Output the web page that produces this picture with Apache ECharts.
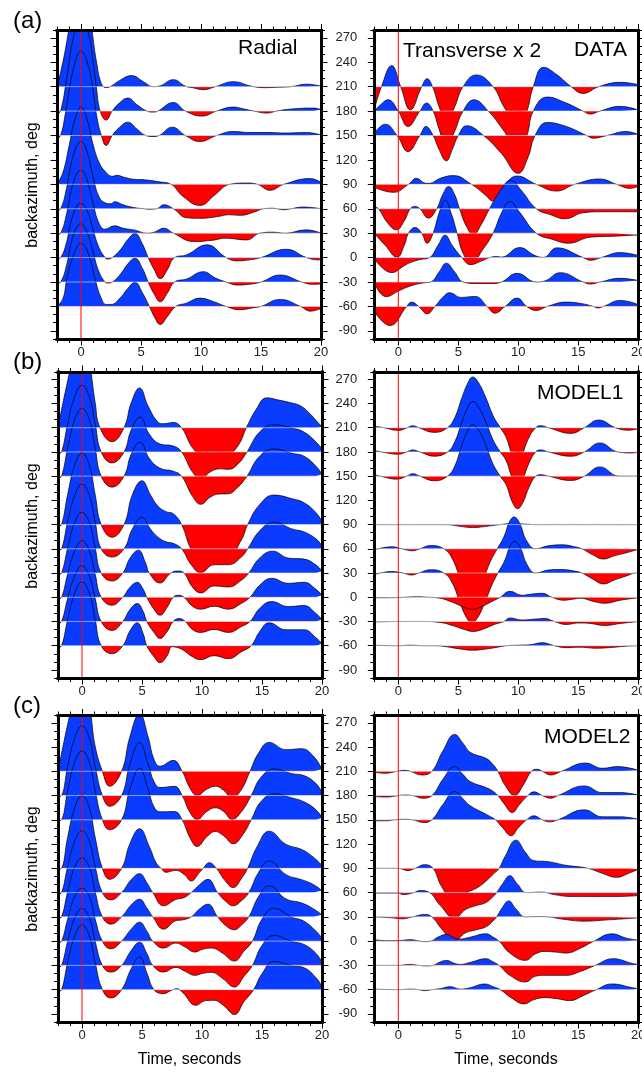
<!DOCTYPE html>
<html>
<head>
<meta charset="utf-8">
<title>Receiver functions</title>
<script src="https://cdn.jsdelivr.net/npm/echarts@6.0.0/dist/echarts.min.js"></script>
<style>
  html, body { margin: 0; padding: 0; background: #fff; }
  #chart { width: 642px; height: 1072px; }
</style>
</head>
<body>
<div id="chart"></div>
<script>
// backazimuth of each trace, top to bottom
const BAZ = [210, 180, 150, 90, 60, 30, 0, -30, -60];
const TIME_TICKS = [0, 5, 10, 15, 20];
const BAZ_TICKS = [-90, -60, -30, 0, 30, 60, 90, 120, 150, 180, 210, 240, 270];
const AMP = 1.233; // trace amplitude unit -> degrees on the y axis

// [time s, amplitude] per trace, same order as BAZ
const RAD_DATA = [
  [[-2,0],[-1.5,25],[-1,58],[-0.5,95],[0,110],[0.5,88],[0.9,57],[1.3,24],[1.7,3],[2.1,-1],[2.5,0.5],[3.2,6],[4.2,11],[5.2,5],[6,0],[6.5,0.5],[7.7,7],[8.7,0.5],[9.3,-1],[10.2,-3],[11.2,0],[12.7,5],[14.2,0.5],[15.3,-1],[16.5,-0.5],[17.5,0],[18.8,2.5],[20,0.5]],
  [[-2,-3],[-1.7,0],[-1.2,32],[-0.6,75],[0,92],[0.6,78],[1.0,50],[1.3,22],[1.6,0],[2.1,-9],[2.6,0],[3.2,8],[3.9,13],[4.7,6],[5.5,0],[6,-1],[6.4,0],[7.7,8.5],[8.7,0],[10.1,-5],[11.3,0],[12.7,4],[13.6,2],[14.4,0],[15.5,-2],[16.3,0],[17.5,2],[19.4,3],[20,1.5]],
  [[-2,-3],[-1.7,0],[-1.3,22],[-0.6,68],[0,84],[0.6,70],[1.0,45],[1.3,20],[1.7,0],[2.1,-10],[2.6,0],[3.2,8],[3.9,13.3],[4.7,6],[5.4,0],[6,-1],[6.5,0],[7.6,8.3],[8.7,0],[9.9,-6],[11.3,0],[12.7,4],[14,3],[15.5,3],[17,2.5],[18.8,3],[20,0.5]],
  [[-2,0],[-1.5,12],[-1,38],[-0.5,65],[0,77],[0.5,65],[1,40],[1.5,22],[2,13],[2.6,8],[3.0,9],[3.6,7],[4.4,5],[5.3,4.5],[6.5,2.5],[7.5,0],[8.5,-12],[9.9,-21],[11.2,-10],[12.4,0],[13.8,1.3],[14.7,0],[15.75,-6],[16.9,0],[19.1,5.7],[20,2]],
  [[-2,-2],[-1.7,0],[-1.3,15],[-0.6,55],[0,67],[0.5,57],[1,32],[1.5,12],[2,6],[2.5,5],[2.8,7],[3.5,4],[4.5,1],[5.3,0],[5.6,-0.5],[6.3,0],[6.9,4],[7.7,0],[8.8,-9],[10,-9.5],[11.3,-8],[12.3,-6],[13.3,-6.5],[14.5,-3],[15.2,0],[16,0.5],[16.9,-1],[17.5,0],[18.5,1.7],[20,0]],
  [[-2,-2],[-1.7,0],[-1.3,14],[-0.6,52],[0,63],[0.5,53],[1,30],[1.5,10],[2,4],[2.8,7.3],[3.5,5],[4.5,3],[5.5,0],[6.1,1],[6.9,5],[7.7,0],[9.4,-8.3],[11,-7],[12,-5],[13.8,-6.7],[14.9,0],[16,1],[17,0],[18.8,3.3],[20,0]],
  [[-2,-2],[-1.7,0],[-1.3,11],[-0.6,45],[0,54],[0.5,47],[1,28],[1.5,10],[2,0],[2.2,-1.5],[2.6,0],[3.3,8],[3.9,18],[4.5,24],[5.1,14],[5.6,0],[6.1,-12],[6.6,-21],[7.2,-12],[7.8,0],[8.8,2.7],[10.5,12.7],[12.1,0],[13,-3.3],[14.2,-2],[15,0],[17.1,8.3],[18.8,0],[19.8,-2.3],[20,-1]],
  [[-2,-2],[-1.7,0],[-1.3,12],[-0.6,48],[0,58],[0.5,50],[1,30],[1.5,10],[2,0],[2.2,-1],[2.6,0],[3.3,8],[3.9,18],[4.5,23.7],[5.1,14],[5.6,0],[6.1,-12],[6.6,-19.7],[7.2,-11],[7.8,0],[8.8,3],[10.2,10.3],[11.2,4],[12.1,0],[13,-3],[14.2,-2],[15,0],[16.6,7],[18.4,0],[19.3,-2.3],[20,-2]],
  [[-2,0],[-1.5,8],[-1.2,26],[-0.6,52],[0,63],[0.6,53],[1.2,26],[1.7,8],[2.1,2],[2.5,2],[3.3,9],[3.9,18],[4.5,24],[5.1,14],[5.7,0],[6.1,-10],[6.6,-18],[7.2,-10],[7.9,0],[8.8,3.3],[9.9,8.3],[11,5],[12.1,0],[13.2,-3.3],[14.5,-1],[15,0],[16.6,7],[18.3,0],[19.1,-4.7],[20,-2]]
];

const TRA_DATA = [
  [[-2,-23],[-1.4,0],[-0.55,21],[0.2,0],[1.0,-23],[1.95,0],[2.4,8],[2.85,0],[3.4,-20],[4.0,-36],[4.7,-20],[5.4,0],[6.5,11.7],[7.9,0],[8.8,-20],[10,-40],[10.7,-25],[11.25,0],[12.1,19.3],[13.2,12],[14.4,0],[15.4,-6.7],[16.7,0],[18.5,4.3],[20,2]],
  [[-2,0],[-1.5,6],[-0.85,11.3],[0,0],[0.8,-15.3],[1.8,0],[2.35,8],[2.9,0],[3.4,-18],[4.0,-36],[4.7,-20],[5.4,0],[6.3,11.3],[7.5,0],[8.7,-18],[10,-38.7],[10.7,-25],[11.25,0],[12.4,14],[14,8],[15.4,0],[16,-3],[16.8,0],[18.5,4.7],[20,1]],
  [[-2,2],[-1.1,11.3],[-0.1,0],[0.8,-16],[1.8,0],[2.3,9],[2.9,0],[3.4,-14],[4.0,-25.3],[4.5,-14],[5.0,0],[5.7,9.7],[7.1,0],[8.6,-18],[10,-37.7],[10.8,-22],[11.4,0],[12.4,13],[14,9],[15.7,0],[16.25,-2.7],[17.4,0],[19,4],[20,1]],
  [[-2,-3],[-0.4,-8],[0.85,0],[1.5,6],[2.3,1],[2.6,1],[3.5,6],[4.6,8.7],[6.1,0],[7.2,-10],[7.9,-16.7],[8.9,0],[9.9,8.3],[11.5,0],[13.2,-6.7],[14.7,0],[16.8,5.3],[18.2,0],[19.3,-4],[20,-2]],
  [[-2,2],[-1.65,0],[-0.9,-14],[-0.15,-21],[0.5,-12],[1.0,0],[1.4,2.3],[1.8,0],[2.5,-9.3],[3.2,0],[3.7,14],[4.2,22.3],[4.7,14],[5.1,0],[5.7,-18],[6.25,-26],[6.9,-16],[7.6,0],[8.5,18],[9.35,28.3],[10.2,19],[11.5,0],[12.7,-6],[13.9,-10],[15.4,-4],[17,-3],[18.5,-3],[20,-3]],
  [[-2,0],[-1.1,-12],[-0.1,-24],[0.5,-12],[0.85,0],[1.4,5.7],[1.95,0],[2.4,-10],[2.9,0],[3.4,20],[3.9,33],[4.4,20],[4.9,0],[5.4,-20],[6.1,-30],[7.0,-17],[7.9,0],[8.6,20],[9.3,31.7],[10.1,21],[11.5,0],[12.8,-6],[14.2,-10],[16,-4],[18,-3],[20,-1.7]],
  [[-2,-1],[-0.55,-15],[0.5,-8],[1.0,-5],[1.8,-2],[2.6,0],[3.3,12],[3.9,22.3],[4.5,12],[5.3,0],[6.0,-7],[7.0,-3],[7.6,0],[8.2,1],[8.6,0.5],[10.1,10],[11.4,2],[12.1,0.2],[13.2,9.7],[15.4,0],[16,-2.7],[16.9,0],[18.5,5],[20,2]],
  [[-2,-1],[-1.0,-14.7],[0,-9],[1,-4],[2,-1],[2.7,0],[3.4,10],[4.0,18.7],[4.7,10],[5.4,0],[6.5,-1.5],[7.8,-1.5],[8.6,0],[9.9,8.7],[11.5,0],[12.2,1],[13.5,9.3],[15.4,0],[16,-2],[16.8,0],[18.5,3.7],[20,1.5]],
  [[-2,-5],[-0.7,-19],[0.7,0],[1.1,4.3],[1.7,0],[2.4,-7.3],[3.05,0],[3.7,9],[4.3,13.7],[5.2,9],[6.4,10],[7.4,0],[8.05,-6.7],[8.9,0],[9.9,8.3],[10.7,0],[11.5,-4],[12.4,0],[14,4.3],[15.2,3],[16.25,0],[16.6,-1.5],[17.1,0],[18.5,6],[20,2]]
];

const RAD_M1 = [
  [[-2,0],[-1.5,30],[-1,58],[-0.5,88],[-0.1,100],[0.4,85],[0.75,56],[1.1,25],[1.5,0],[2.5,-14],[3.5,0],[4.1,25],[4.8,40],[5.5,22],[6.3,6],[6.8,4],[7.6,5.3],[8.3,0],[9.2,-20],[9.9,-26.3],[10.9,-24],[12.1,-26.3],[13,-18],[13.7,0],[14.5,18],[15.4,30],[16.3,28],[17.4,25],[18.2,22],[19,14],[19.6,6],[20,1]],
  [[-2,-2],[-1.7,0],[-1.2,28],[-0.6,56],[0,67],[0.6,56],[1.1,28],[1.6,0],[2.5,-11],[3.5,0],[4.1,22],[4.85,35],[5.6,18],[6.5,8],[7.6,6],[8.3,0],[9.2,-20],[9.9,-27.7],[10.7,-20],[11.5,-17],[12.2,-17.5],[13,-12],[13.75,0],[14.8,20],[16,27.3],[17.5,24],[18.5,20],[19.5,10],[20,3]],
  [[-2,-2],[-1.7,0],[-1.2,28],[-0.6,57],[0,68],[0.6,57],[1.1,28],[1.6,0],[2.5,-11],[3.5,0],[4.1,22],[4.85,34.3],[5.6,18],[6.5,8],[7.6,5],[8.3,0],[9.2,-20],[9.9,-28.3],[10.7,-21],[11.4,-18],[12.2,-17.7],[13,-11],[13.75,0],[14.8,20],[16,27.3],[17.5,23],[18.5,20],[19.5,10],[20,2]],
  [[-2,-2],[-1.7,0],[-1.2,30],[-0.6,60],[0,72],[0.6,60],[1.1,30],[1.6,0],[2.5,-12.7],[3.5,0],[4.2,30],[5.0,44],[5.7,30],[6.3,19],[7,13],[7.6,11],[8.3,0],[9.1,-25],[9.9,-36],[11,-30],[12.2,-31],[13.3,-15],[13.8,0],[14.8,20],[16,29.7],[17.5,26],[18.5,22],[19.5,12],[20,3]],
  [[-2,-2],[-1.7,0],[-1.2,27],[-0.6,54],[0,65],[0.6,54],[1.1,27],[1.6,0],[2.5,-8.3],[3.5,0],[4.2,20],[5.0,31.7],[5.7,20],[6.3,12],[7,7],[7.6,5.5],[8.3,0],[9.1,-16],[9.9,-24],[11,-16],[12.2,-16],[13.3,-8],[13.8,0],[14.8,18],[16,26.7],[17.5,20],[18.5,17],[19.5,10],[20,3]],
  [[-2,-2],[-1.7,0],[-1.2,25],[-0.6,51],[0,61],[0.6,51],[1.1,25],[1.6,0],[2.5,-8],[3.4,0],[4,15],[4.7,23],[5.3,10],[5.6,0],[6.5,-10],[7.4,0],[8,2],[8.5,0],[9.2,-14],[9.9,-20],[11,-13],[12.2,-14],[13.3,-7],[13.9,0],[14.8,15],[15.9,22],[17.2,15],[18.5,14],[19.5,8],[20,2]],
  [[-2,-2],[-1.7,0],[-1.2,23],[-0.6,47],[0,57],[0.6,47],[1.1,23],[1.6,0],[2.5,-8],[3.4,0],[4,10],[4.6,15],[5.1,8],[5.4,0],[6,-12],[6.5,-18],[7.1,-10],[7.6,0],[8,2],[8.5,0],[9.2,-9],[9.9,-12],[11,-9],[12.2,-12],[13.3,-6],[14,0],[14.8,12],[15.8,19],[17.2,14],[18.5,15],[19.5,8],[20,2]],
  [[-2,-2],[-1.7,0],[-1.2,23],[-0.6,46],[0,56],[0.6,46],[1.1,23],[1.6,0],[2.5,-9],[3.4,0],[4,12],[4.6,18],[5.1,10],[5.4,0],[6,-11],[6.5,-17],[7.1,-10],[7.6,0],[8.1,3],[8.6,0],[9.2,-8],[9.9,-11],[11,-8],[12.2,-11],[13.3,-5],[14,0],[14.8,13],[15.8,20],[17.2,15],[18.5,16],[19.5,8],[20,2]],
  [[-2,-2],[-1.7,0],[-1.2,26],[-0.6,53],[0,64],[0.6,53],[1.1,26],[1.6,0],[2.5,-8],[3.4,0],[4,15],[4.6,23],[5.1,12],[5.4,0],[6,-11],[6.5,-17],[7.1,-10],[7.5,-1],[8,-2],[8.5,-5],[9.2,-11],[9.9,-14],[11,-10],[12.2,-13],[13.3,-6],[14.1,0],[14.8,14],[15.6,23],[17,16],[18.5,16],[19.5,8],[20,2]]
];

const TRA_M1 = [
  [[-2,1.5],[-1.2,0],[0,-2.7],[0.75,0],[1.2,2],[1.7,0],[3.0,-4.7],[4.1,0],[4.7,10],[5.3,30],[5.8,45],[6.2,51],[6.7,45],[7.3,30],[7.9,12],[8.5,0],[9.0,-10],[9.5,-28],[9.9,-35.7],[10.3,-28],[10.8,-12],[11.45,0],[11.9,2],[12.5,0],[14.4,-5.7],[15.5,0],[16.7,7.7],[18.1,0],[19.2,-2.5],[20,-1]],
  [[-2,1.5],[-1.4,0],[0,-2.3],[0.7,0],[1.2,2],[1.8,0],[3.0,-4.3],[4.1,0],[4.7,10],[5.3,30],[5.8,45],[6.2,50.7],[6.7,45],[7.3,30],[7.9,12],[8.5,0],[9.0,-9],[9.5,-26],[9.95,-32.7],[10.4,-26],[10.9,-11],[11.45,0],[11.9,2],[12.5,0],[14.4,-4.3],[15.5,0],[16.8,9],[18.3,0],[19.5,-1],[20,0]],
  [[-2,1.5],[-1.5,0],[-0.1,-3],[0.7,0],[1.2,2.5],[1.8,0],[3.0,-4.7],[4.1,0],[4.7,10],[5.3,31],[5.8,46],[6.2,51.7],[6.7,46],[7.3,31],[7.9,12],[8.5,0],[9.0,-9],[9.5,-26],[9.95,-32.7],[10.4,-26],[10.9,-11],[11.45,0],[11.9,1.5],[12.5,0],[14.4,-4.3],[15.5,0],[16.8,9.3],[18.4,0],[20,0]],
  [[-2,0],[4,0],[5,-1.5],[6.2,-3],[7.5,-1.5],[8.5,0],[9.5,1],[10.5,0.5],[11.5,0],[20,0]],
  [[-2,-1.5],[-1.7,0],[-0.5,2],[0.3,0],[1.2,-2],[1.8,0],[2.7,3.3],[3.8,0],[4.5,-10],[5.2,-32],[5.6,-45],[6.0,-50],[6.5,-45],[7.1,-30],[7.7,-12],[8.25,0],[8.8,12],[9.3,28],[9.65,32],[10.1,26],[10.7,8],[11.45,0],[12.5,3],[13.7,4],[14.7,2],[15.3,0],[16.2,-6],[17.1,-10.3],[18,-7],[19,-4],[20,-0.5]],
  [[-2,-1.5],[-1.5,0],[-0.6,1.5],[0.4,0],[1.1,-2],[1.7,0],[2.7,3.3],[3.8,0],[4.5,-10],[5.2,-32],[5.7,-45],[6.1,-50.3],[6.6,-45],[7.2,-30],[7.8,-12],[8.3,0],[8.85,12],[9.35,28],[9.7,31.7],[10.15,26],[10.75,8],[11.45,0],[12.5,3],[13.5,3.5],[14.7,2],[15.3,0],[16.2,-6],[17.1,-11],[18,-7],[19,-3],[19.8,0],[20,0]],
  [[-2,-0.5],[0,-0.3],[1.5,0.5],[2.5,0],[3.5,-1],[4.5,-5],[5.5,-10],[6.2,-12],[7,-9],[8,-3],[8.5,0],[9.3,6],[10.3,2],[11,3],[12,4],[12.8,0],[13.8,-3],[14.5,-2],[15.2,-1],[16.2,-4],[17.2,-6],[18.5,-3],[20,-0.5]],
  [[-2,-0.5],[0,0],[2,0],[3.5,-1],[4.5,-4],[5.5,-8],[6.2,-10],[7,-8],[8,-3],[8.8,0],[9.3,3.5],[10.3,1.5],[11.5,2.5],[12.2,3],[13,0],[14,-3],[15,-1.5],[16,-2],[17.2,-4],[18.5,-2],[20,0]],
  [[-2,0.5],[0,0],[1,0.5],[2,0],[3,0],[4,-1],[5,-3],[6.2,-4.5],[7.5,-3],[8.5,-1],[9,0],[10,0.5],[11,1],[12,3],[13,0],[14,-2],[15,-1.5],[16.5,-2.5],[17.5,-2],[19,-0.5],[20,0]]
];

const RAD_M2 = [
  [[-2,0],[-1.5,30],[-1,58],[-0.5,88],[-0.1,100],[0.4,85],[0.75,56],[1.1,25],[1.7,0],[2.3,-15],[3.3,0],[4.0,35],[4.8,58],[5.5,35],[6.0,12],[6.5,5],[7.6,11],[8.35,0],[9.0,-17],[9.6,-24.3],[10.4,-18],[11.1,-15],[11.8,-19],[12.5,-26.7],[13.3,-18],[14,0],[14.7,18],[15.6,29],[17,21.7],[18.3,22.7],[19.3,15],[20,2]],
  [[-2,-1],[-1.7,0],[-1.2,29],[-0.6,58],[0,70],[0.6,58],[1.1,29],[1.7,0],[2.3,-10.7],[3.3,0],[4.0,32],[4.8,53],[5.5,32],[6.0,14],[6.5,8],[7.7,9.3],[8.35,0],[9.0,-17],[9.6,-24],[10.4,-16],[11.1,-12.3],[11.8,-16],[12.5,-24],[13.3,-16],[14.1,0],[14.9,18],[16,26.7],[17.5,22],[18.5,20],[19.5,12],[20,3]],
  [[-2,-1],[-1.7,0],[-1.2,29],[-0.6,58],[0,69],[0.6,58],[1.1,29],[1.7,0],[2.3,-10],[3.3,0],[4.0,31],[4.8,51.7],[5.5,31],[6.0,13],[6.5,8],[7.7,8.3],[8.35,0],[9.0,-18],[9.6,-26.7],[10.4,-17],[11.1,-11.7],[11.8,-16],[12.6,-24],[13.4,-15],[14.1,0],[14.9,18],[16,26],[17.5,22],[18.5,18],[19.5,10],[20,2]],
  [[-2,-1],[-1.7,0],[-1.2,31],[-0.6,61],[0,73],[0.6,61],[1.1,31],[1.7,0],[2.3,-11],[3.3,0],[4.0,25],[4.8,39.7],[5.6,22],[6.2,5],[6.6,0],[7,-4],[7.8,-2],[8.5,-6],[9.1,-12.7],[9.8,-4],[10.1,0],[10.6,5.7],[11.2,0],[11.9,-12],[12.6,-19.3],[13.3,-10],[13.8,0],[14.6,22],[15.6,37.3],[17,24],[18.3,19],[19.3,11],[20,3]],
  [[-2,-2],[-1.7,0],[-1.2,26],[-0.6,52],[0,62],[0.6,52],[1.1,26],[1.7,0],[2.4,-7.3],[3.3,0],[4.1,13],[4.8,19],[5.4,10],[5.9,0],[6.8,-13.3],[7.8,-7],[8.5,-5],[9.1,0],[9.8,8],[10.5,13.3],[11.3,0],[12,-9],[12.6,-13.3],[13.3,-8],[13.9,0],[14.7,20],[15.6,31.7],[17,18],[18.3,13],[19.3,8],[20,2]],
  [[-2,-2],[-1.7,0],[-1.2,25],[-0.6,50],[0,59],[0.6,50],[1.1,25],[1.7,0],[2.4,-7.3],[3.3,0],[4.1,12],[4.8,17.7],[5.4,9],[5.9,0],[6.8,-12.3],[7.8,-4],[8.4,-3],[9.1,0],[9.8,8],[10.5,12.7],[11.3,0],[12,-9],[12.7,-13],[13.3,-8],[13.9,0],[14.7,20],[15.6,31],[17,18],[18.3,14],[19.3,8],[20,2]],
  [[-2,-2],[-1.7,0],[-1.2,22],[-0.6,45],[0,53],[0.6,45],[1.1,22],[1.7,0],[2.4,-7.7],[3.3,0],[4.1,12],[4.8,19],[5.4,10],[5.9,0],[6.8,-7],[7.8,-2],[8.6,-6],[9.4,-11],[10.1,-8],[10.8,-7],[11.7,-12],[12.7,-20],[13.5,-10],[14.2,0],[15,22],[16,33],[17.5,24],[18.5,20],[19.5,10],[20,3]],
  [[-2,-2],[-1.7,0],[-1.2,24],[-0.6,48],[0,57],[0.6,48],[1.1,24],[1.7,0],[2.4,-6.7],[3.3,0],[4.1,15],[4.8,23.3],[5.4,12],[5.9,0],[6.8,-6.7],[7.8,-2],[8.6,-6],[9.4,-10],[10.1,-8],[10.8,-7],[11.7,-13],[12.7,-21.7],[13.5,-11],[14.2,0],[15,20],[16,30],[17.5,24],[18.5,21],[19.5,12],[20,3]],
  [[-2,-2],[-1.7,0],[-1.2,27],[-0.6,54],[0,65],[0.6,54],[1.1,27],[1.7,0],[2.4,-8.3],[3.3,0],[4.1,21],[4.8,32.7],[5.4,17],[6.0,0],[6.8,-4],[7.4,-1],[7.9,1],[8.4,-3],[9.5,-15.7],[10.3,-11],[11,-10.7],[11.8,-16],[12.7,-25],[13.5,-12],[14.3,0],[15,16],[16,28.3],[17.5,24],[18.5,22],[19.5,12],[20,3]]
];

const TRA_M2 = [
  [[-2,-1],[-1.1,-2],[-0.1,0],[0.5,1],[1,0],[1.95,-3.7],[2.8,0],[3.7,20],[4.7,37],[5.4,28],[6,19],[7.3,13],[7.8,8],[8.3,0],[8.9,-14],[9.7,-24.3],[10.4,-14],[11.1,0],[11.6,2],[12,0],[12.7,-3.7],[13.6,0],[15.6,8.3],[17,3],[18.3,4.7],[20,1]],
  [[-2,-1],[-1,-1.5],[0,0],[0.5,0.5],[1.2,0],[2,-2.7],[2.8,0],[3.7,16],[4.7,29],[5.4,21],[6,14],[7.3,8],[7.8,5],[8.3,0],[8.8,-8],[9.5,-17],[10.1,-9],[10.8,0],[11.3,3.7],[12,0],[12.7,-2.7],[13.3,0],[15.5,9.7],[17,3],[18.5,3],[20,0.5]],
  [[-2,-1],[-1,-1],[-0.3,0],[0.5,0.5],[1.2,0],[2.1,-2.7],[2.8,0],[3.7,15],[4.7,28.3],[5.4,21],[6,14],[7.3,5.7],[7.7,3],[8.1,0],[8.7,-8],[9.4,-16],[10.0,-8],[10.7,0],[11.3,4],[12,0],[12.6,-2],[13.3,0],[15.5,10],[17,3],[18.5,3],[20,0.5]],
  [[-2,0],[0,0],[0.8,-2.3],[1.4,0],[2.2,3.7],[2.9,0],[3.6,-18],[4.7,-34],[5.6,-25],[6.5,-20],[7.2,-14],[7.9,-6],[8.4,0],[8.9,12],[9.8,28.3],[10.6,16],[11.3,7.7],[12.5,6.7],[14,3],[15.8,0],[17,-5],[18.2,-9],[19.2,-5],[20,-1]],
  [[-2,-0.5],[0,-0.5],[0.4,-2],[1.3,0],[1.8,2],[2.6,0],[3.5,-13],[4.7,-25.7],[5.6,-17],[6.5,-13],[7.3,-10],[7.9,-4],[8.2,0],[8.7,9],[9.3,17],[9.9,9],[10.7,0],[12,0.5],[13,-2],[14.5,-4],[16,-4],[18,-4],[20,-3]],
  [[-2,0],[-0.5,-1],[0.3,-2],[1.2,0],[2.2,2.3],[2.8,0],[3.6,-12],[4.7,-24],[5.6,-16],[6.5,-13],[7.3,-10],[7.9,-4],[8.2,0],[8.6,8],[9.2,16],[9.8,8],[10.6,0],[11.5,0.3],[12.5,0],[13.5,-2],[15.5,-4.3],[17.5,-3],[20,-1]],
  [[-2,1.5],[-1,0.5],[0,0.5],[1,1.5],[1.8,0],[2.2,-0.5],[2.7,0],[3.3,4],[4,6.7],[4.7,3],[5,2],[6,4],[7.3,7.3],[7.9,4],[8.4,0],[9.3,-12],[10.6,-19.3],[11.4,-13],[12.2,-10.3],[13.1,-11],[14,-12],[15.2,-7],[16.3,0],[17.8,7.3],[19,3],[20,1]],
  [[-2,0],[-1,0],[0,0],[1,1],[1.7,0],[2.3,-0.5],[2.9,0],[3.4,3],[4,5],[4.7,2],[5.2,1],[6,3],[7.3,6.7],[7.9,3.5],[8.4,0],[9.3,-10],[10.6,-16.7],[11.4,-11],[12.2,-10],[13.1,-10],[14,-10],[15.2,-6],[16.4,0],[17.9,6.7],[19.5,2],[20,1]],
  [[-2,0.5],[0,0],[1,0.5],[1.7,0],[2.2,-1],[2.8,0],[3.5,1],[4.3,3],[5.2,0.5],[6,2],[7.2,5.7],[7.9,3],[8.5,0],[9.4,-8],[10.5,-14.3],[11.3,-10],[12.2,-8],[13.2,-9],[14.3,-11],[15.4,-6],[16.5,0],[17.8,5.7],[19.5,2],[20,1]]
];

const FONT = "'Liberation Sans', Arial, Helvetica, sans-serif";
const BLUE = '#0a3cff';
const RED = '#ff0000';

const PANELS = [
  { traces: RAD_DATA, left: 57,    top: 30.5,  height: 308.5, labels: false },
  { traces: TRA_DATA, left: 374.3, top: 30.5,  height: 308.5, labels: true },
  { traces: RAD_M1,   left: 58,    top: 372,   height: 306,   labels: false },
  { traces: TRA_M1,   left: 374.3, top: 372,   height: 306,   labels: true },
  { traces: RAD_M2,   left: 58,    top: 715.5, height: 306.5, labels: false },
  { traces: TRA_M2,   left: 374.3, top: 715.5, height: 306.5, labels: true }
];

const grid = [], xAxis = [], yAxis = [], series = [], visualMap = [];

PANELS.forEach((p, g) => {
  grid.push({ left: p.left, top: p.top, width: 264, height: p.height, show: false,
    containLabel: false, outerBoundsMode: 'none' });

  const frame = { show: true, onZero: false, lineStyle: { color: '#000', width: 3, cap: 'square' } };
  const noLine = { show: false, onZero: false };
  const major = vals => ({ show: true, inside: false, length: 6.5, customValues: vals, lineStyle: { color: '#000', width: 1 } });
  const minor = { show: true, inside: false, length: 4, lineStyle: { color: '#000', width: 1 } };
  const label = { color: '#222', fontSize: 13, fontFamily: FONT };

  const xb = { gridIndex: g, type: 'value', min: -2, max: 20, splitLine: { show: false }, z: 30 };
  xAxis.push(
    { ...xb, position: 'bottom', axisLine: frame, axisTick: major(TIME_TICKS),
      axisLabel: { ...label, customValues: TIME_TICKS, margin: 7 } },
    { ...xb, position: 'bottom', interval: 1, axisLine: noLine, axisTick: minor, axisLabel: { show: false } },
    { ...xb, position: 'top', axisLine: frame, axisTick: major(TIME_TICKS), axisLabel: { show: false } },
    { ...xb, position: 'top', interval: 1, axisLine: noLine, axisTick: minor, axisLabel: { show: false } }
  );

  const yb = { gridIndex: g, type: 'value', min: -100, max: 279, splitLine: { show: false }, z: 30 };
  yAxis.push(
    { ...yb, position: 'left', axisLine: frame, axisTick: major(BAZ_TICKS),
      axisLabel: p.labels ? { ...label, customValues: BAZ_TICKS, margin: 17 } : { show: false } },
    { ...yb, position: 'left', interval: 10, axisLine: noLine, axisTick: minor, axisLabel: { show: false } },
    { ...yb, position: 'right', axisLine: frame, axisTick: major(BAZ_TICKS), axisLabel: { show: false } },
    { ...yb, position: 'right', interval: 10, axisLine: noLine, axisTick: minor, axisLabel: { show: false } }
  );

  const onAxes = { xAxisIndex: 4 * g, yAxisIndex: 4 * g, silent: true, symbol: 'none',
    showSymbol: false, emphasis: { disabled: true } };

  // traces drawn top to bottom, each one over the previous
  p.traces.forEach((tr, k) => {
    const b = BAZ[k];
    visualMap.push({
      type: 'piecewise', show: false, seriesIndex: series.length, dimension: 1,
      pieces: [{ min: -1000, max: b, color: RED }, { min: b, max: 1000, color: BLUE }]
    });
    series.push({
      ...onAxes, type: 'line', z: 2 + k,
      data: tr.map(([t, a]) => [t, b + a * AMP]),
      smooth: 0.45,
      lineStyle: { color: '#000', width: 0.7 },
      areaStyle: { origin: b, opacity: 1 }
    });
  });

  // light zero lines, then the red t = 0 line over everything
  BAZ.forEach(b => series.push({
    ...onAxes, type: 'line', z: 20, data: [[-2, b], [20, b]],
    lineStyle: { color: 'rgba(255,255,255,0.5)', width: 1 }
  }));
  series.push({
    ...onAxes, type: 'line', z: 21, data: [[0, -100], [0, 279]],
    lineStyle: { color: RED, width: 1 }
  });
});

const txt = (text, x, y, size, extra) => Object.assign({
  type: 'text', x: x, y: y, silent: true, z: 40,
  style: { text: text, fontSize: size, fontFamily: FONT, fill: '#000',
    align: 'left', verticalAlign: 'middle', textAlign: 'left', textVerticalAlign: 'middle' }
}, extra || {});
const centered = { align: 'center', textAlign: 'center' };

const graphic = [
  txt('(a)', 13, 21, 24), txt('(b)', 13, 362, 24), txt('(c)', 13, 706, 24),
  txt('Radial', 238, 48, 21), txt('Transverse x 2', 403, 51, 21), txt('DATA', 574, 50.5, 21),
  txt('MODEL1', 537, 393, 21), txt('MODEL2', 544, 737.5, 21)
];
[185, 526, 869].forEach(y => {
  const t = txt('backazimuth, deg', 33, y, 16, { rotation: Math.PI / 2 });
  Object.assign(t.style, centered);
  graphic.push(t);
});
[189.5, 506].forEach(x => {
  const t = txt('Time, seconds', x, 1060, 16);
  Object.assign(t.style, centered);
  graphic.push(t);
});

const chart = echarts.init(document.getElementById('chart'));
chart.setOption({
  animation: false,
  backgroundColor: '#fff',
  grid: grid,
  xAxis: xAxis,
  yAxis: yAxis,
  visualMap: visualMap,
  series: series,
  graphic: graphic
});
</script>
</body>
</html>
